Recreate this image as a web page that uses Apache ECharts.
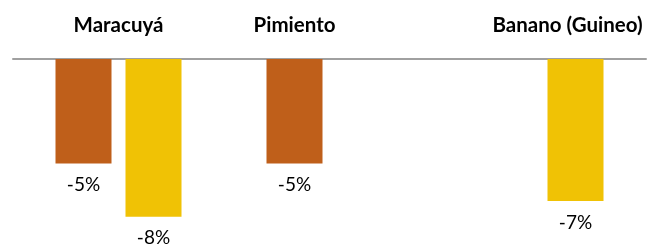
<!DOCTYPE html>
<html>
<head>
<meta charset="utf-8">
<script src="https://cdn.jsdelivr.net/npm/echarts@6/dist/echarts.min.js"></script>
<style>
  html, body { margin: 0; padding: 0; background: #fff; }
  #chart { width: 659px; height: 248px; }
</style>
</head>
<body>
<div id="chart"></div>
<script>
// categorías y variaciones (%)
const categories = ['Maracuyá', 'Pimiento', 'Banano (Guineo)'];
const seriesA = [-5.3, -5.3, null];
const seriesB = [-8.0, null, -7.2];

const chart = echarts.init(document.getElementById('chart'));

const valueLabel = {
  show: true,
  position: 'bottom',
  distance: 12,
  color: '#000',
  fontFamily: 'Lato',
  fontSize: 19,
  formatter: p => Math.round(p.value) + '%'
};

const catFont = { fontFamily: 'Lato', fontWeight: 'bold', fontSize: 20.5, color: '#000' };

chart.setOption({
  animation: false,
  grid: { left: 13, right: 13, top: 59, bottom: 21.5 },
  xAxis: {
    type: 'category',
    position: 'top',
    data: categories,
    axisLine: { lineStyle: { color: '#a0a0a0', width: 2 } },
    axisTick: { show: false },
    axisLabel: Object.assign({
      interval: 0,
      margin: 23,
      // Excel no centra las etiquetas 2 y 3 en su categoría
      formatter: (v, i) => i === 1 ? '{l|' + v + '}' : i === 2 ? '{r|' + v + '}' : v,
      rich: {
        l: Object.assign({ padding: [0, 70, 0, 0] }, catFont),
        r: Object.assign({ padding: [0, 0, 0, 54] }, catFont)
      }
    }, catFont)
  },
  yAxis: {
    type: 'value',
    min: -8.5,
    max: 0,
    show: false,
    splitLine: { show: false }
  },
  series: [
    {
      type: 'bar',
      data: seriesA,
      barWidth: 56,
      barGap: '25%',
      itemStyle: { color: '#bf5f1a' },
      label: valueLabel
    },
    {
      type: 'bar',
      data: seriesB,
      barWidth: 56,
      barGap: '25%',
      itemStyle: { color: '#f0c205' },
      label: valueLabel
    }
  ]
});
</script>
</body>
</html>
